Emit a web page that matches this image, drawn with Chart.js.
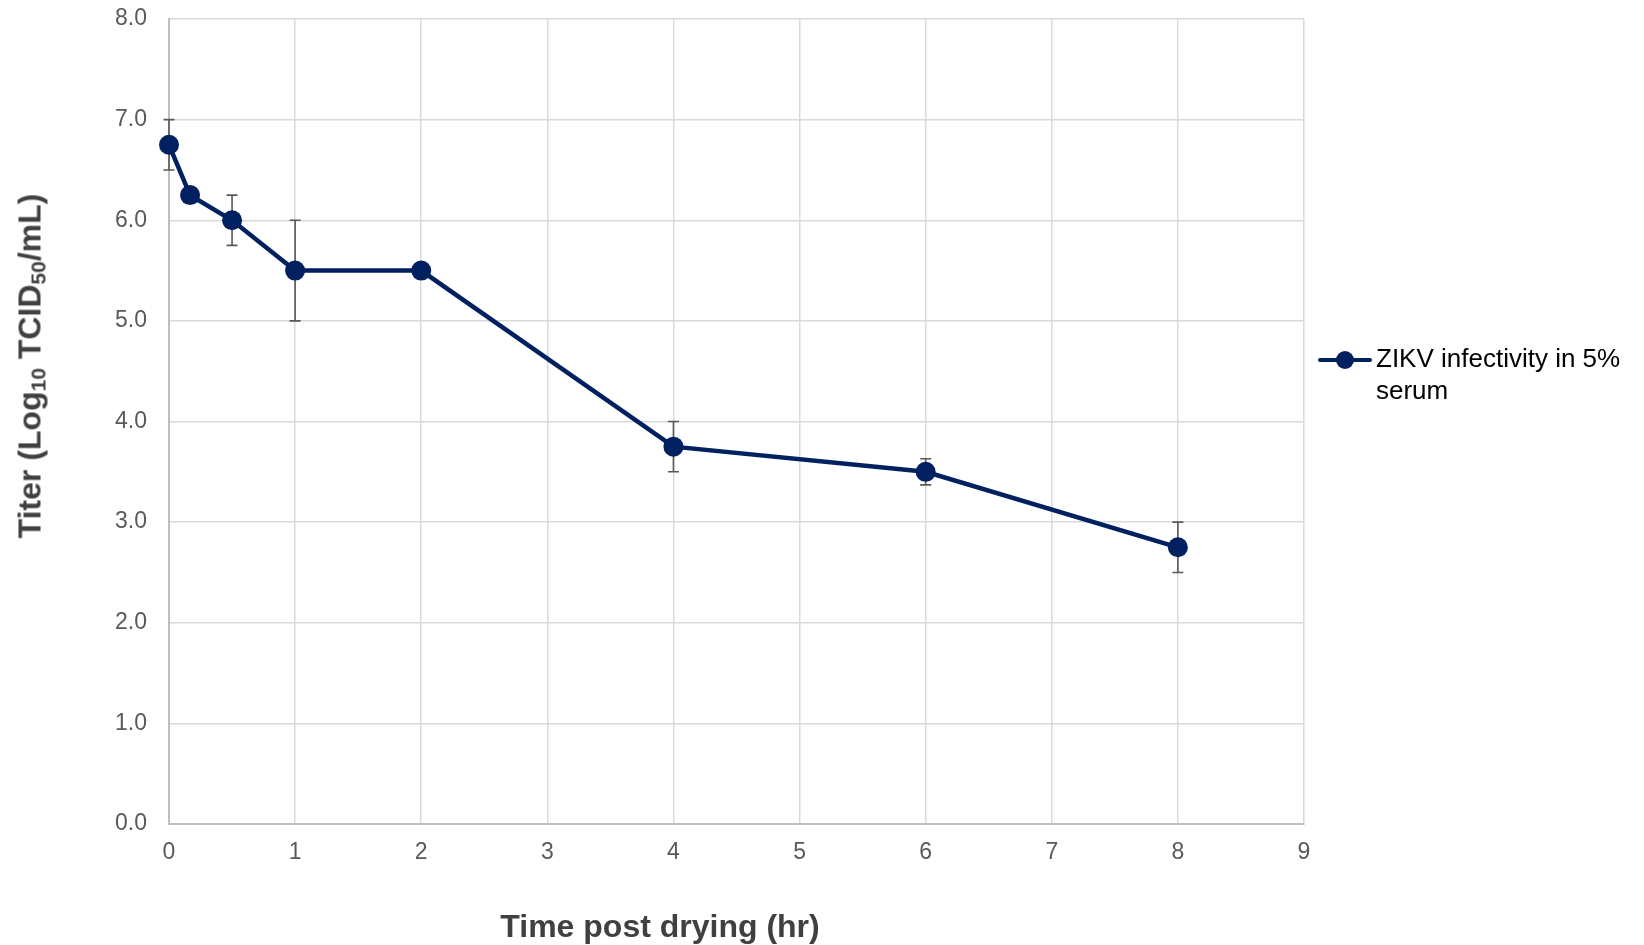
<!DOCTYPE html>
<html lang="en">
<head>
  <meta charset="UTF-8">
  <title>ZIKV infectivity</title>
  <script src="https://cdn.jsdelivr.net/npm/chart.js"></script>
  <style>
    body { margin: 0; background: #fff; font-family: "Liberation Sans", Arial, sans-serif; }
    .wrap { position: relative; width: 1644px; height: 945px; }
    #yTitle {
      position: absolute; left: 30px; top: 366px;
      transform: translate(-50%, -50%) rotate(-90deg);
      white-space: nowrap; font-weight: bold; font-size: 32px; color: #404040;
    }
    #yTitle sub { font-size: 21px; vertical-align: -5px; line-height: 0; }
    #xTitle {
      position: absolute; left: 660px; top: 926px;
      transform: translate(-50%, -50%);
      white-space: nowrap; font-weight: bold; font-size: 32px; color: #404040;
    }
    .legend { position: absolute; left: 1318px; top: 342px; display: flex; align-items: flex-start; }
    .legend .key { position: relative; width: 54px; height: 34px; margin-right: 4px; }
    .legend .key .ln { position: absolute; left: 0; right: 0; top: 16px; height: 4px; background: #002060; border-radius: 2px; }
    .legend .key .dot { position: absolute; left: 18px; top: 9px; width: 18px; height: 18px; border-radius: 50%; background: #002060; }
    .legend .txt { font-size: 26px; line-height: 32px; color: #000; width: 320px; }
  </style>
</head>
<body>
  <div class="wrap">
    <canvas id="chart" width="1644" height="945"></canvas>
    <div id="yTitle">Titer (Log<sub>10</sub> TCID<sub>50</sub>/mL)</div>
    <div id="xTitle">Time post drying (hr)</div>
    <div class="legend">
      <div class="key"><div class="ln"></div><div class="dot"></div></div>
      <div class="txt">ZIKV infectivity in 5%<br>serum</div>
    </div>
  </div>

  <script>
    const hours = [0, 0.167, 0.5, 1, 2, 4, 6, 8];
    const titer = [6.75, 6.25, 6.0, 5.5, 5.5, 3.75, 3.5, 2.75];
    const titerErr = [0.25, 0, 0.25, 0.5, 0, 0.25, 0.13, 0.25];
    const seriesLabel = "ZIKV infectivity in 5% serum";

    // error bars drawn behind the line, through the chart scales
    const errorBars = {
      id: "errorBars",
      beforeDatasetsDraw(chart) {
        const ctx = chart.ctx;
        const xs = chart.scales.x, ys = chart.scales.y;
        ctx.save();
        ctx.strokeStyle = "#595959";
        ctx.lineWidth = 1.6;
        hours.forEach((h, i) => {
          if (!titerErr[i]) return;
          const x = xs.getPixelForValue(h);
          const y1 = ys.getPixelForValue(titer[i] + titerErr[i]);
          const y2 = ys.getPixelForValue(titer[i] - titerErr[i]);
          ctx.beginPath();
          ctx.moveTo(x, y1); ctx.lineTo(x, y2);
          ctx.moveTo(x - 5.5, y1); ctx.lineTo(x + 5.5, y1);
          ctx.moveTo(x - 5.5, y2); ctx.lineTo(x + 5.5, y2);
          ctx.stroke();
        });
        ctx.restore();
      }
    };

    new Chart(document.getElementById("chart"), {
      type: "line",
      data: {
        datasets: [{
          label: seriesLabel,
          data: hours.map((h, i) => ({ x: h, y: titer[i] })),
          borderColor: "#002060",
          backgroundColor: "#002060",
          borderWidth: 4.5,
          pointRadius: 10,
          pointBorderWidth: 0,
          tension: 0,
          clip: false
        }]
      },
      options: {
        responsive: false,
        animation: false,
        layout: { padding: { top: 19, right: 340, bottom: 0, left: 0 } },
        plugins: { legend: { display: false }, tooltip: { enabled: false } },
        scales: {
          x: {
            type: "linear", min: 0, max: 9,
            ticks: { stepSize: 1, padding: 15, color: "#595959", font: { family: "Liberation Sans", size: 23 } },
            grid: { color: "#d9d9d9", lineWidth: 1.5, drawTicks: false },
            border: { color: "#bfbfbf", width: 2 },
            afterFit(scale) { scale.height = 121; }
          },
          y: {
            min: 0, max: 8,
            ticks: {
              stepSize: 1, padding: 22, color: "#595959",
              font: { family: "Liberation Sans", size: 23 },
              callback: v => v.toFixed(1)
            },
            grid: { color: "#d9d9d9", lineWidth: 1.5, drawTicks: false },
            border: { color: "#bfbfbf", width: 2 },
            afterFit(scale) {
              scale.width = 169;
              scale.paddingTop = 0;
              scale.paddingBottom = 0;
            }
          }
        }
      },
      plugins: [errorBars]
    });
  </script>
</body>
</html>
